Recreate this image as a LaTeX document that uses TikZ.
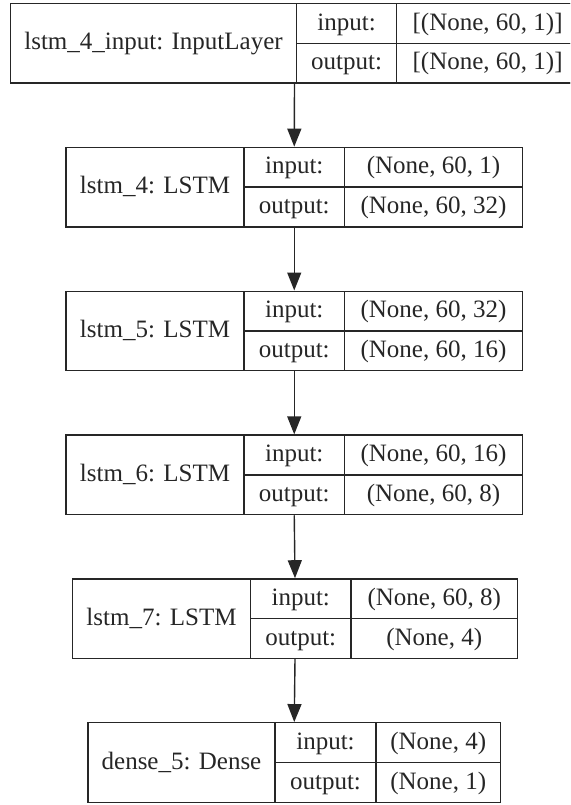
\documentclass[tikz,border=0pt]{standalone}
\usepackage{fontspec}
\setmainfont{Liberation Serif}
\usetikzlibrary{arrows.meta}

\begin{document}
\begin{tikzpicture}[x=1pt, y=-1pt, line width=1.4pt, color=black!85, font=\fontsize{25pt}{30pt}\selectfont,
    fnode/.style={draw,rectangle,minimum height=79.5pt,inner sep=0pt},
    lnode/.style={draw,rectangle,minimum height=79.5pt,inner sep=0pt,text height=17.5pt,text depth=4pt},
    pnode/.style={draw,rectangle,minimum height=39.75pt,inner sep=0pt,text height=17.5pt,text depth=4pt},
    arr/.style={-{Triangle[length=18pt,width=14pt]}}]
    \clip (0,0) rectangle (570,805);

    \node[fnode, minimum width=568pt] (inp) at (294.5,43.25) {};
    \node[lnode, minimum width=286pt] (inpname) at (153.5,43.25) {lstm\_4\_input: InputLayer};
    \node[pnode, minimum width=100.2pt] (inpin) at (346.6,23.375) {input:};
    \node[pnode, minimum width=100.2pt] (inpout) at (346.6,63.125) {output:};
    \node[pnode, minimum width=181.8pt] (inpinv) at (487.6,23.375) {[(None, 60, 1)]};
    \node[pnode, minimum width=181.8pt] (inpoutv) at (487.6,63.125) {[(None, 60, 1)]};

    \node[fnode, minimum width=456.5pt] (lstm4) at (294.25,187.1) {};
    \node[lnode, minimum width=178pt] (lstm4name) at (155,187.1) {lstm\_4: LSTM};
    \node[pnode, minimum width=100.5pt] (lstm4in) at (294.25,167.225) {input:};
    \node[pnode, minimum width=100.5pt] (lstm4out) at (294.25,206.975) {output:};
    \node[pnode, minimum width=178pt] (lstm4inv) at (433.5,167.225) {(None, 60, 1)};
    \node[pnode, minimum width=178pt] (lstm4outv) at (433.5,206.975) {(None, 60, 32)};

    \node[fnode, minimum width=456.5pt] (lstm5) at (294.25,330.95) {};
    \node[lnode, minimum width=178pt] (lstm5name) at (155,330.95) {lstm\_5: LSTM};
    \node[pnode, minimum width=100.5pt] (lstm5in) at (294.25,311.075) {input:};
    \node[pnode, minimum width=100.5pt] (lstm5out) at (294.25,350.825) {output:};
    \node[pnode, minimum width=178pt] (lstm5inv) at (433.5,311.075) {(None, 60, 32)};
    \node[pnode, minimum width=178pt] (lstm5outv) at (433.5,350.825) {(None, 60, 16)};

    \node[fnode, minimum width=456.5pt] (lstm6) at (294.25,474.8) {};
    \node[lnode, minimum width=178pt] (lstm6name) at (155,474.8) {lstm\_6: LSTM};
    \node[pnode, minimum width=100.5pt] (lstm6in) at (294.25,454.925) {input:};
    \node[pnode, minimum width=100.5pt] (lstm6out) at (294.25,494.675) {output:};
    \node[pnode, minimum width=178pt] (lstm6inv) at (433.5,454.925) {(None, 60, 16)};
    \node[pnode, minimum width=178pt] (lstm6outv) at (433.5,494.675) {(None, 60, 8)};

    \node[fnode, minimum width=445pt] (lstm7) at (295,618.65) {};
    \node[lnode, minimum width=178pt] (lstm7name) at (161.5,618.65) {lstm\_7: LSTM};
    \node[pnode, minimum width=100.5pt] (lstm7in) at (300.75,598.775) {input:};
    \node[pnode, minimum width=100.5pt] (lstm7out) at (300.75,638.525) {output:};
    \node[pnode, minimum width=166.5pt] (lstm7inv) at (434.25,598.775) {(None, 60, 8)};
    \node[pnode, minimum width=166.5pt] (lstm7outv) at (434.25,638.525) {(None, 4)};

    \node[fnode, minimum width=412.5pt] (dense5) at (294.25,762.5) {};
    \node[lnode, minimum width=187pt] (dense5name) at (181.5,762.5) {dense\_5: Dense};
    \node[pnode, minimum width=101pt] (dense5in) at (325.5,742.625) {input:};
    \node[pnode, minimum width=101pt] (dense5out) at (325.5,782.375) {output:};
    \node[pnode, minimum width=124.5pt] (dense5inv) at (438.25,742.625) {(None, 4)};
    \node[pnode, minimum width=124.5pt] (dense5outv) at (438.25,782.375) {(None, 1)};

    \draw[arr] (inp.south) -- (lstm4.north);
    \draw[arr] (lstm4.south) -- (lstm5.north);
    \draw[arr] (lstm5.south) -- (lstm6.north);
    \draw[arr] (lstm6.south) -- (lstm7.north);
    \draw[arr] (lstm7.south) -- (dense5.north);
\end{tikzpicture}
\end{document}
